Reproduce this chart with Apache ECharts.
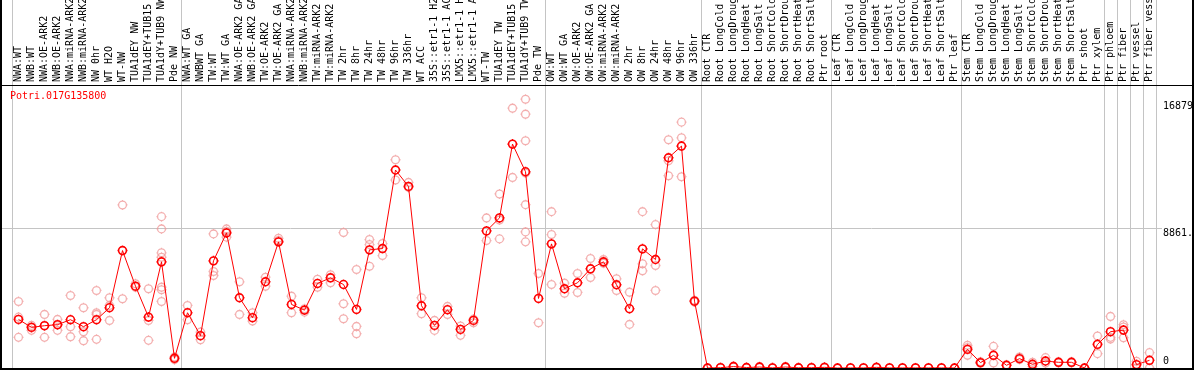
<!DOCTYPE html>
<html><head><meta charset="utf-8">
<script src="https://cdn.jsdelivr.net/npm/echarts@6/dist/echarts.min.js"></script>
<style>html,body{margin:0;padding:0;background:#fff}#c{width:1194px;height:370px}</style>
</head><body><div id="c"></div>
<script>
const geneId = 'Potri.017G135800';

const categories = [
  'NWA:WT','NWB:WT','NWA:OE-ARK2','NWB:OE-ARK2','NWA:miRNA-ARK2','NWB:miRNA-ARK2','NW 0hr','WT H2O','WT-NW','TUA1dEY NW','TUA1dEY+TUB15 NW','TUA1dY+TUB9 NW','Pde NW',
  'NWA:WT GA','NWBWT GA','TW:WT','TW:WT GA','NWA:OE-ARK2 GA','NWB:OE-ARK2 GA','TW:OE-ARK2','TW:OE-ARK2 GA','NWA:miRNA-ARK2 GA','NWB:miRNA-ARK2 GA','TW:miRNA-ARK2','TW:miRNA-ARK2 GA',
  'TW 2hr','TW 8hr','TW 24hr','TW 48hr','TW 96hr','TW 336hr','WT ACC','35S::etr1-1 H2O','35S::etr1-1 ACC','LMX5::etr1-1 H2O','LMX5::etr1-1 ACC','WT-TW','TUA1dEY TW','TUA1dEY+TUB15 TW','TUA1dY+TUB9 TW','Pde TW',
  'OW:WT','OW:WT GA','OW:OE-ARK2','OW:OE-ARK2 GA','OW:miRNA-ARK2','OW:miRNA-ARK2 GA','OW 2hr','OW 8hr','OW 24hr','OW 48hr','OW 96hr','OW 336hr',
  'Root CTR','Root LongCold','Root LongDrought','Root LongHeat','Root LongSalt','Root ShortCold','Root ShortDrought','Root ShortHeat','Root ShortSalt','Ptr root',
  'Leaf CTR','Leaf LongCold','Leaf LongDrought','Leaf LongHeat','Leaf LongSalt','Leaf ShortCold','Leaf ShortDrought','Leaf ShortHeat','Leaf ShortSalt','Ptr leaf',
  'Stem CTR','Stem LongCold','Stem LongDrought','Stem LongHeat','Stem LongSalt','Stem ShortCold','Stem ShortDrought','Stem ShortHeat','Stem ShortSalt','Ptr shoot','Ptr xylem',
  'Ptr phloem','Ptr fiber','Ptr vessel','Ptr fiber vessel'
];

const meanValues = [
  3082,2576,2683,2747,3063,2620,3063,3823,7449,5190,3228,6734,614,
  3506,2051,6797,8569,4456,3190,5468,8000,4032,3671,5361,5721,
  5297,3715,7494,7576,12557,11519,3949,2703,3696,2449,3019,8696,9519,14202,12449,4411,
  7873,5025,5405,6291,6734,5278,3759,7557,6880,13335,14076,4240,
  0,20,90,30,60,10,60,15,20,40,
  0,5,5,40,5,5,5,5,5,0,
  1183,342,804,171,595,234,443,361,361,0,1500,
  2304,2405,215,487
];

const replicates = [
  [4221,3228,1943],[2703,2620,2387],[3399,2683,1943],[3082,2747,2387],[4601,2620,1987],[3823,2304,1734],[4918,3500,3400,1816],[4456,3968,3019],[10342,4392],[5342,5127],[5025,3019,1753],[9601,8823,7304,7025,5127,4962,4221],[700,530],
  [3968,3063],[2278,1797],[8506,6120,5867],[8823,8671,8300],[5468,3399],[3506,2975],[5759,5190],[8228,8082],[4557,3506],[3759,3544],[5633,5127],[5911,5405],
  [8588,4076,3126],[6247,2639,2177],[8146,7829,6456],[7892,7133],[13209,11924],[11772,11456],[4456,3443],[3019,2386],[3905,3399],[2658,2070],[3101,2873],[9519,8082],[11038,9392,8190],[16481,12088],[17050,16100,14411,12367,10361,8633,8000],[5994,2873],
  [9917,8462,5297],[5380,4747],[5994,4791],[6943,5740],[6880,6671,6650],[5658,4918],[4810,2766],[9917,6608,6164],[9095,6500,4918],[14475,13146,12196],[15595,14601,12133],[4300,4180],
  [0,0],[30,10],[120,60],[40,20],[90,30],[15,5],[90,30],[20,10],[30,10],[60,20],
  [0,0],[10,0],[10,0],[60,20],[10,0],[10,0],[10,0],[10,0],[10,0],[0,0],
  [1437,1300,804],[400,300],[1373,316],[200,150],[696,532],[360,100],[658,316],[400,330],[400,330],[0,0],[2025,911],
  [3272,1943,1835],[2747,2595,1924],[424,0],[975,0]
];

const groupStarts = [0,13,41,53,63,73,84,85,86,87,88];
const yTicks = [0, 8861, 16879];
const yTickLabels = ['0', '8861.', '16879'];
const yMax = 17950;

const FONT = '"DejaVu Sans Mono", "Liberation Mono", monospace';
const chart = echarts.init(document.getElementById('c'), null, {renderer: 'canvas'});

const scatterData = [];
replicates.forEach((arr, i) => arr.forEach(v => scatterData.push([i, v])));

const sym = 'path://M9.6,6A3.6,3.6,0,1,1,2.4,6A3.6,3.6,0,1,1,9.6,6Z M6,1.4L6,2.4 M6,9.6L6,10.6 M1.4,6L2.4,6 M9.6,6L10.6,6';

chart.setOption({
  animation: false,
  grid: {left: 12, right: 38, top: 85, bottom: 2, containLabel: false, outerBoundsMode: 'none'},
  xAxis: {
    type: 'category', data: categories, position: 'top', boundaryGap: true,
    axisLine: {show: false}, axisTick: {show: false}, splitLine: {show: false},
    axisLabel: {interval: 0, rotate: 90, margin: 3, color: '#000', fontFamily: FONT, fontSize: 10, hideOverlap: false}
  },
  yAxis: {type: 'value', min: 0, max: yMax, show: false},
  series: [
    {
      type: 'scatter', data: scatterData, symbol: sym, symbolSize: 10, z: 2,
      itemStyle: {color: 'rgba(0,0,0,0)', borderColor: '#f09a9a', borderWidth: 1.3},
      silent: true
    },
    {
      type: 'line', data: meanValues, symbol: sym, symbolSize: 10, showSymbol: true, z: 3,
      lineStyle: {color: '#ff0000', width: 1},
      itemStyle: {color: 'rgba(0,0,0,0)', borderColor: '#ff0000', borderWidth: 1.6},
      silent: true
    }
  ]
});

const center = i => chart.convertToPixel({gridIndex: 0}, [i, 0])[0];
const yPix = v => chart.convertToPixel({gridIndex: 0}, [0, v])[1];
const half = (center(1) - center(0)) / 2;
const edge = k => k < categories.length ? center(k) - half : center(categories.length - 1) + half;
const crisp = v => Math.round(v) + 0.5;
const bottomY = yPix(0);

const g = [];
groupStarts.forEach(k => {
  const x = crisp(edge(k));
  g.push({type: 'line', z: 1, silent: true, shape: {x1: x, y1: 0, x2: x, y2: bottomY}, style: {stroke: '#c4c4c4', lineWidth: 1}});
});
const yg = crisp(yPix(yTicks[1]));
g.push({type: 'line', z: 1, silent: true, shape: {x1: 0, y1: yg, x2: edge(categories.length) + 6, y2: yg}, style: {stroke: '#c4c4c4', lineWidth: 1}});

// frame
const W = 1194;
g.push({type: 'line', z: 10, silent: true, shape: {x1: 0, y1: 85.5, x2: W, y2: 85.5}, style: {stroke: '#000', lineWidth: 1}});
g.push({type: 'line', z: 10, silent: true, shape: {x1: 1, y1: 0, x2: 1, y2: 370}, style: {stroke: '#000', lineWidth: 2}});
g.push({type: 'line', z: 10, silent: true, shape: {x1: W - 1, y1: 0, x2: W - 1, y2: 370}, style: {stroke: '#000', lineWidth: 2}});
g.push({type: 'line', z: 10, silent: true, shape: {x1: 0, y1: 369, x2: W, y2: 369}, style: {stroke: '#000', lineWidth: 2}});

// y labels
const labX = edge(categories.length) + 7;
yTicks.forEach((v, i) => {
  const y = yPix(v);
  const va = v === 0 ? 'bottom' : 'top';
  g.push({type: 'text', z: 5, silent: true, style: {
    text: yTickLabels[i], x: labX, y: v === 0 ? y - 2 : y, fill: '#000',
    font: '10px ' + FONT, align: 'left', textAlign: 'left', verticalAlign: va, textVerticalAlign: va
  }});
});

// title
g.push({type: 'text', z: 5, silent: true, style: {
  text: geneId, x: 10, y: 96, fill: '#ff0000', font: '10px ' + FONT,
  align: 'left', textAlign: 'left', verticalAlign: 'middle', textVerticalAlign: 'middle'
}});

chart.setOption({graphic: {elements: g}});
</script>
</body></html>
